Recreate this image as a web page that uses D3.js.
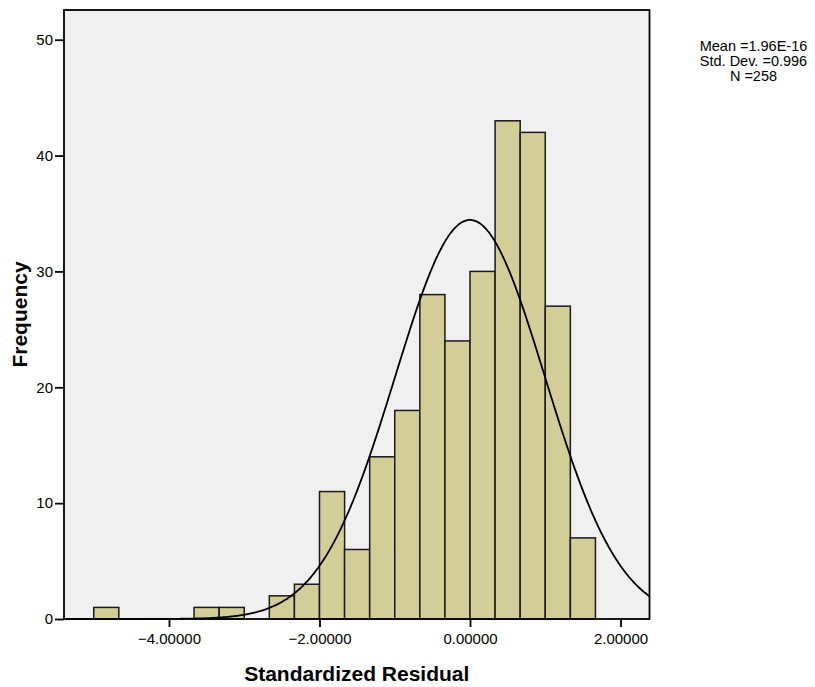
<!DOCTYPE html>
<html><head><meta charset="utf-8">
<script src="https://cdn.jsdelivr.net/npm/d3@7"></script>
<style>body{margin:0;background:#fff;} text{font-family:"Liberation Sans",Arial,sans-serif;}</style>
</head><body>
<svg id="c" width="815" height="687"></svg>
<script>
// Histogram bins (width 1/3), lower edges and counts
const binStart = -5;
const binWidth = 1/3;
const counts = [1,0,0,0,1,1,0,2,3,11,6,14,18,28,24,30,43,42,27,7];
const xTicks = [-4,-2,0,2];
const yTicks = [0,10,20,30,40,50];
const stats = {mean:1.96e-16, sd:0.996, n:258};
const statLines = ["Mean =1.96E-16","Std. Dev. =0.996","N =258"];

const svg = d3.select("#c");
const L=64, R=649.5, T=10, B=619;
const x = d3.scaleLinear().domain([-5.395, 2.385]).range([L,R]);
const y = d3.scaleLinear().domain([0,50]).range([B,39.7]);

svg.append("rect").attr("x",L).attr("y",T).attr("width",R-L).attr("height",B-T).attr("fill","#f0f0f0");

const bins = counts.map((c,i)=>({x0:binStart+i*binWidth, x1:binStart+(i+1)*binWidth, c}));
svg.append("g").selectAll("rect").data(bins.filter(d=>d.c>0)).join("rect")
  .attr("x",d=>x(d.x0)).attr("width",d=>x(d.x1)-x(d.x0))
  .attr("y",d=>y(d.c)).attr("height",d=>y(0)-y(d.c))
  .attr("fill","#d3ce97").attr("stroke","#1a1a1a").attr("stroke-width",1.5);

// normal curve from stated statistics
const pts = d3.range(x.domain()[0], x.domain()[1]+0.001, 0.02).map(v=>{
  const z=(v-stats.mean)/stats.sd;
  return [v, stats.n*binWidth*Math.exp(-0.5*z*z)/(stats.sd*Math.sqrt(2*Math.PI))];
});
svg.append("path").datum(pts)
  .attr("d",d3.line().x(d=>x(d[0])).y(d=>y(d[1])).curve(d3.curveBasis))
  .attr("fill","none").attr("stroke","#000").attr("stroke-width",1.8);

svg.append("rect").attr("x",L).attr("y",T).attr("width",R-L).attr("height",B-T)
  .attr("fill","none").attr("stroke","#000").attr("stroke-width",1.8);

const xa = svg.append("g").attr("transform",`translate(0,${B})`)
  .call(d3.axisBottom(x).tickValues(xTicks).tickSize(8).tickPadding(6).tickFormat(d3.format(".5f")));
xa.select(".domain").remove();
xa.selectAll("line").attr("stroke","#000").attr("stroke-width",1.8);
xa.selectAll("text").attr("font-size","15px").attr("fill","#000").style("font-family","'Liberation Sans',Arial,sans-serif");

const ya = svg.append("g").attr("transform",`translate(${L},0)`)
  .call(d3.axisLeft(y).tickValues(yTicks).tickSize(9).tickPadding(2));
ya.select(".domain").remove();
ya.selectAll("line").attr("stroke","#000").attr("stroke-width",1.8);
ya.selectAll("text").attr("font-size","15px").attr("fill","#000").style("font-family","'Liberation Sans',Arial,sans-serif");

svg.append("text").attr("x",(L+R)/2).attr("y",681).attr("text-anchor","middle")
  .attr("font-size","21px").attr("font-weight","bold").text("Standardized Residual");
svg.append("text").attr("transform",`translate(27,${(T+B)/2}) rotate(-90)`).attr("text-anchor","middle")
  .attr("font-size","21px").attr("font-weight","bold").text("Frequency");

svg.append("g").selectAll("text").data(statLines).join("text")
  .attr("x",753.5).attr("y",(d,i)=>51+i*15).attr("text-anchor","middle")
  .attr("font-size","14.5px").text(d=>d);
</script>
</body></html>
